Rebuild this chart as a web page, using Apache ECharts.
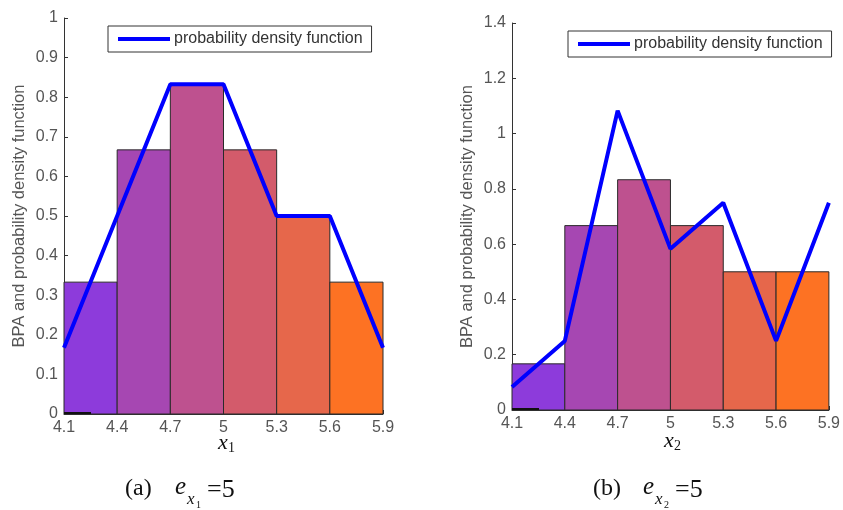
<!DOCTYPE html>
<html>
<head>
<meta charset="utf-8">
<script src="https://cdn.jsdelivr.net/npm/echarts@6/dist/echarts.min.js"></script>
<style>
  html, body { margin: 0; padding: 0; background: #fff; }
  #chart { width: 843px; height: 510px; }
</style>
</head>
<body>
<div id="chart"></div>
<script>

// bin edges shared by both panels
var binStart = [4.1, 4.4, 4.7, 5.0, 5.3, 5.6];
var binEnd   = [4.4, 4.7, 5.0, 5.3, 5.6, 5.9];
var xTicks   = [4.1, 4.4, 4.7, 5.0, 5.3, 5.6, 5.9];

// panel (a): BPA bars and pdf line
var bpaA = [0.333, 0.667, 0.833, 0.667, 0.5, 0.333];
var pdfA = [0.167, 0.5, 0.833, 0.833, 0.5, 0.5, 0.167];

// panel (b)
var bpaB = [0.167, 0.667, 0.833, 0.667, 0.5, 0.5];
var pdfB = [0.083, 0.25, 1.083, 0.583, 0.75, 0.25, 0.75];

var barColors = ['#8D3BDB', '#A647B2', '#BE518F', '#D35B6B', '#E6674B', '#FD7223'];
var sansFont = 'Liberation Sans';
var serifFont = 'Liberation Serif';

const toBars = function(values) {
    var out = [];
    for (var i = 0; i < values.length; i++) {
        out.push([binStart[i], binEnd[i], values[i]]);
    }
    return out;
}

const toLine = function(values) {
    var out = [];
    for (var i = 0; i < values.length; i++) {
        out.push([xTicks[i], values[i]]);
    }
    return out;
}

const renderBin = function(params, api) {
    var topLeft = api.coord([api.value(0), api.value(2)]);
    var bottomRight = api.coord([api.value(1), 0]);
    return {
        type: 'rect',
        shape: {
            x: topLeft[0],
            y: topLeft[1],
            width: bottomRight[0] - topLeft[0],
            height: bottomRight[1] - topLeft[1]
        },
        style: { fill: barColors[params.dataIndex], stroke: '#2a2a2a', lineWidth: 1 }
    };
}

const makeXAxis = function(gridIndex) {
    return {
        type: 'value', gridIndex: gridIndex, min: 4.1, max: 5.9,
        axisLine: { lineStyle: { color: '#333', width: 1 } },
        axisTick: { inside: true, length: 4, customValues: xTicks, lineStyle: { color: '#333' } },
        axisLabel: {
            customValues: xTicks, color: '#555', fontFamily: sansFont, fontSize: 16, margin: 6,
            formatter: function(v) { return String(Number(v.toFixed(1))); }
        },
        splitLine: { show: false }
    };
}

const makeYAxis = function(gridIndex, max, interval) {
    return {
        type: 'value', gridIndex: gridIndex, min: 0, max: max, interval: interval,
        name: 'BPA and probability density function',
        nameLocation: 'middle', nameRotate: 90, nameGap: 36.5,
        nameTextStyle: { color: '#555', fontFamily: sansFont, fontSize: 16.5 },
        axisLine: { show: true, lineStyle: { color: '#333', width: 1 } },
        axisTick: { show: true, inside: true, length: 4, lineStyle: { color: '#333' } },
        axisLabel: {
            color: '#555', fontFamily: sansFont, fontSize: 16, margin: 6,
            formatter: function(v) { return String(Number(v.toFixed(1))); }
        },
        splitLine: { show: false }
    };
}

const makeLegend = function(left, top, id) {
    return {
        data: [{ name: 'probability density function' }],
        left: left, top: top, orient: 'horizontal',
        seriesIndex: id,
        icon: 'rect', itemWidth: 52, itemHeight: 4, itemGap: 0,
        padding: [5, 9, 5, 10],
        borderColor: '#333', borderWidth: 1, backgroundColor: '#fff',
        textStyle: { color: '#333', fontFamily: sansFont, fontSize: 16, padding: [0, 0, 0, -1] }
    };
}

const caption = function(x, label, sub) {
    // "(a)  e_{x_1} =5" built from small text pieces
    var base = { fill: '#111', fontFamily: serifFont };
    return [
        { type: 'text', left: x, top: 477, style: Object.assign({ text: label, fontSize: 24 }, base) },
        { type: 'text', left: x + 50, top: 475, style: Object.assign({ text: 'e', fontSize: 25, fontStyle: 'italic' }, base) },
        { type: 'text', left: x + 62, top: 491, style: Object.assign({ text: 'x', fontSize: 17, fontStyle: 'italic' }, base) },
        { type: 'text', left: x + 71, top: 500, style: Object.assign({ text: sub, fontSize: 10 }, base) },
        { type: 'text', left: x + 82, top: 477, style: Object.assign({ text: '=5', fontSize: 26 }, base) }
    ];
}

const axisName = function(x, y, sub) {
    var base = { fill: '#111', fontFamily: serifFont };
    return [
        { type: 'text', left: x, top: y, style: Object.assign({ text: 'x', fontSize: 22, fontStyle: 'italic' }, base) },
        { type: 'text', left: x + 10, top: y + 9, style: Object.assign({ text: sub, fontSize: 14 }, base) }
    ];
}

// short black stub drawn on the baseline in the original figure
const baseStub = function(x, y) {
    return { type: 'rect', left: x, top: y, shape: { width: 27, height: 2 }, style: { fill: '#111' }, z: 10 };
}

var chart = echarts.init(document.getElementById('chart'), null, { renderer: 'canvas' });

chart.setOption({
    backgroundColor: '#fff',
    animation: false,
    grid: [
        { left: 64, top: 18, width: 319, height: 396 },
        { left: 512, top: 23, width: 321, height: 387 }
    ],
    xAxis: [makeXAxis(0), makeXAxis(1)],
    yAxis: [makeYAxis(0, 1, 0.1), makeYAxis(1, 1.4, 0.2)],
    legend: [makeLegend(108, 26, 1), makeLegend(568, 31, 3)],
    series: [
        {
            type: 'custom', name: 'BPA', xAxisIndex: 0, yAxisIndex: 0,
            renderItem: renderBin, encode: { x: [0, 1], y: 2 },
            data: toBars(bpaA), z: 2
        },
        {
            type: 'line', name: 'probability density function', xAxisIndex: 0, yAxisIndex: 0,
            data: toLine(pdfA), showSymbol: false, symbol: 'none',
            lineStyle: { color: '#0000FF', width: 4 }, itemStyle: { color: '#0000FF' }, z: 3
        },
        {
            type: 'custom', name: 'BPA b', xAxisIndex: 1, yAxisIndex: 1,
            renderItem: renderBin, encode: { x: [0, 1], y: 2 },
            data: toBars(bpaB), z: 2
        },
        {
            type: 'line', name: 'probability density function', xAxisIndex: 1, yAxisIndex: 1,
            data: toLine(pdfB), showSymbol: false, symbol: 'none',
            lineStyle: { color: '#0000FF', width: 4 }, itemStyle: { color: '#0000FF' }, z: 3
        }
    ],
    graphic: [].concat(
        axisName(218, 432, '1'),
        axisName(664, 430, '2'),
        caption(125, '(a)', '1'),
        caption(593, '(b)', '2'),
        [baseStub(64, 412), baseStub(512, 408)]
    )
});

</script>
</body>
</html>
